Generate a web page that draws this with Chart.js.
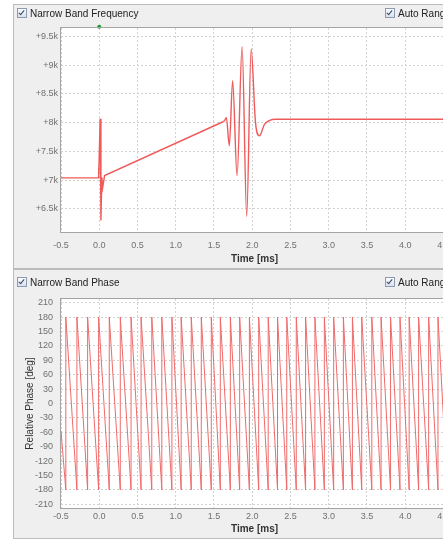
<!DOCTYPE html>
<html>
<head>
<meta charset="utf-8">
<script src="https://cdn.jsdelivr.net/npm/chart.js@4.4.1/dist/chart.umd.min.js"></script>
<style>
  html, body { margin: 0; padding: 0; background: #fff; width: 443px; height: 541px; overflow: hidden; font-family: "Liberation Sans", Arial, sans-serif; }
  .panel { position: absolute; left: 13px; width: 470px; background: #efefef; border: 1px solid #bcbcbc; box-sizing: border-box; }
  canvas { position: absolute; }
  .chk { position: absolute; font-size: 10px; color: #222; white-space: nowrap; line-height: 12px; }
  .chk .box { display: inline-block; width: 8px; height: 8px; border: 1px solid #8c9bb0; background: linear-gradient(#fdfdfd, #d8e0ec); vertical-align: -1px; margin-right: 3px; position: relative; }
  .chk .box::after { content: ''; position: absolute; left: 2px; top: 0; width: 2px; height: 5px; border: solid #34466a; border-width: 0 1px 1px 0; transform: rotate(40deg); }
</style>
</head>
<body>
<div class="panel" style="top:4px;height:265px;"></div>
<div class="panel" style="top:269px;height:270px;"></div>

<canvas id="freq-chart" width="457" height="264" style="left:13px;top:4px;width:457px;height:264px;"></canvas>
<canvas id="phase-chart" width="457" height="268" style="left:13px;top:270px;width:457px;height:268px;"></canvas>

<div class="chk" style="left:17px;top:8px;"><span class="box"></span>Narrow Band Frequency</div>
<div class="chk" style="left:385px;top:8px;"><span class="box"></span>Auto Range</div>
<div class="chk" style="left:17px;top:277px;"><span class="box"></span>Narrow Band Phase</div>
<div class="chk" style="left:385px;top:277px;"><span class="box"></span>Auto Range</div>

<script>
// time axis [ms]
const timeTicks = [-0.5, 0.0, 0.5, 1.0, 1.5, 2.0, 2.5, 3.0, 3.5, 4.0, 4.5];
const timeMin = -0.5, timeMax = 4.56;

// narrow band frequency [kHz] - step / ramp part (straight segments)
const freqTicks = [6.5, 7, 7.5, 8, 8.5, 9, 9.5];
const rampTime  = [-0.5, -0.016, -0.010, -0.005, 0.012, 0.022, 0.034, 0.045, 0.07, 1.626];
const rampValue = [7.04, 7.04, 7.22, 7.05, 8.07, 6.30, 7.05, 6.87, 7.08, 8.02];
// ringing part (smooth)
const ringTime  = [1.626, 1.645, 1.662, 1.701, 1.744, 1.802, 1.868, 1.928, 1.986, 2.043, 2.095, 2.16, 2.23, 2.30, 4.56];
const ringValue = [8.02, 8.05, 8.09, 7.60, 8.73, 7.08, 9.32, 6.37, 9.28, 8.00, 7.77, 7.97, 8.04, 8.06, 8.06];
const markerTime = [0.0];
const markerValue = [9.665];

// relative phase [deg]: times where the phase wraps from -180 back to +180
const phaseTicks = [-210, -180, -150, -120, -90, -60, -30, 0, 30, 60, 90, 120, 150, 180, 210];
const phaseStart = -57, phaseEnd = 157;
const wrapTimes = [-0.437, -0.292, -0.152, -0.008, 0.131, 0.275, 0.416, 0.547, 0.687, 0.818, 0.950, 1.071, 1.203, 1.334, 1.465, 1.583, 1.714, 1.836, 1.963, 2.085, 2.209, 2.331, 2.452, 2.576, 2.698, 2.820, 2.943, 3.065, 3.192, 3.310, 3.432, 3.564, 3.685, 3.809, 3.932, 4.052, 4.176, 4.307, 4.429, 4.552];

const tickFont = { family: '"Liberation Sans", Arial, sans-serif', size: 9 };
const titleFont = { family: '"Liberation Sans", Arial, sans-serif', size: 10 };
const lineRed = '#ef5b5b';

const plotFrame = {
  id: 'plotFrame',
  beforeDraw(chart) {
    const { ctx, chartArea: a } = chart;
    ctx.save();
    ctx.fillStyle = '#ffffff';
    ctx.fillRect(a.left, a.top, a.right - a.left, a.bottom - a.top);
    ctx.restore();
  },
  afterDatasetsDraw(chart) {
    const { ctx, chartArea: a } = chart;
    ctx.save();
    ctx.strokeStyle = '#a4a4a4';
    ctx.lineWidth = 1;
    ctx.strokeRect(Math.round(a.left) - 0.5, Math.round(a.top) - 0.5, Math.round(a.right - a.left) + 1, Math.round(a.bottom - a.top) + 1);
    ctx.restore();
  }
};

function fixedTicks(values) {
  return scale => { scale.ticks = values.map(v => ({ value: v })); };
}

function toPoints(xs, ys) {
  return xs.map((x, i) => ({ x: x, y: ys[i] }));
}

function timeAxis(xHeight, padding) {
  return {
    type: 'linear',
    min: timeMin,
    max: timeMax,
    afterBuildTicks: fixedTicks(timeTicks),
    afterFit: scale => { scale.height = xHeight; },
    grid: { color: '#d2d2d2', drawTicks: false },
    border: { display: false, dash: [2, 2] },
    ticks: { font: tickFont, color: '#707070', padding: padding, maxRotation: 0, callback: v => v.toFixed(1) },
    title: { display: true, text: 'Time [ms]', color: '#333', font: { ...titleFont, weight: 'bold' }, padding: { top: 2, bottom: 3 } }
  };
}

function buildPhasePoints() {
  const pts = [{ x: timeMin, y: phaseStart }];
  wrapTimes.forEach(t => {
    pts.push({ x: t, y: -180 });
    pts.push({ x: t, y: 180 });
  });
  pts.push({ x: timeMax, y: phaseEnd });
  return pts;
}

let freqChart, phaseChart;

function initCharts() {
  const freqCtx = document.getElementById('freq-chart').getContext('2d');
  freqChart = new Chart(freqCtx, {
    type: 'line',
    data: {
      datasets: [{
        label: 'Narrow Band Frequency',
        data: toPoints(rampTime, rampValue),
        borderColor: lineRed,
        borderWidth: 1.4,
        pointRadius: 0,
        tension: 0,
        fill: false
      }, {
        label: 'Narrow Band Frequency (ringing)',
        data: toPoints(ringTime, ringValue),
        borderColor: lineRed,
        borderWidth: 1.4,
        pointRadius: 0,
        cubicInterpolationMode: 'monotone',
        fill: false
      }, {
        label: 'marker',
        data: toPoints(markerTime, markerValue),
        showLine: false,
        pointRadius: 2,
        pointBorderWidth: 0,
        pointBackgroundColor: '#1c9a2a',
        clip: false
      }]
    },
    options: {
      responsive: false,
      animation: false,
      layout: { padding: { top: 24, right: 22, bottom: 0, left: 0 } },
      plugins: { legend: { display: false }, tooltip: { enabled: false } },
      scales: {
        x: timeAxis(36, 8),
        y: {
          min: 6.1,
          max: 9.645,
          afterBuildTicks: fixedTicks(freqTicks),
          afterFit: scale => { scale.width = 48; },
          grid: { color: '#d2d2d2', drawTicks: false },
          border: { display: false, dash: [2, 2] },
          ticks: { font: tickFont, color: '#707070', padding: 3, callback: v => '+' + v + 'k' }
        }
      }
    },
    plugins: [plotFrame]
  });

  const phaseCtx = document.getElementById('phase-chart').getContext('2d');
  phaseChart = new Chart(phaseCtx, {
    type: 'line',
    data: {
      datasets: [{
        label: 'Narrow Band Phase',
        data: buildPhasePoints(),
        borderColor: '#ef6a6a',
        borderWidth: 1,
        pointRadius: 0,
        tension: 0,
        fill: false
      }]
    },
    options: {
      responsive: false,
      animation: false,
      layout: { padding: { top: 29, right: 22, bottom: 0, left: 0 } },
      plugins: { legend: { display: false }, tooltip: { enabled: false } },
      scales: {
        x: timeAxis(30, 3),
        y: {
          min: -217.5,
          max: 217.5,
          afterBuildTicks: fixedTicks(phaseTicks),
          afterFit: scale => { scale.width = 48; },
          grid: { color: '#d2d2d2', drawTicks: false },
          border: { display: false, dash: [2, 2] },
          ticks: { font: tickFont, color: '#707070', padding: 8 },
          title: { display: true, text: 'Relative Phase [deg]', color: '#333', font: titleFont, padding: { top: 11, bottom: 0 } }
        }
      }
    },
    plugins: [plotFrame]
  });
}

document.addEventListener('DOMContentLoaded', initCharts);
</script>
</body>
</html>
